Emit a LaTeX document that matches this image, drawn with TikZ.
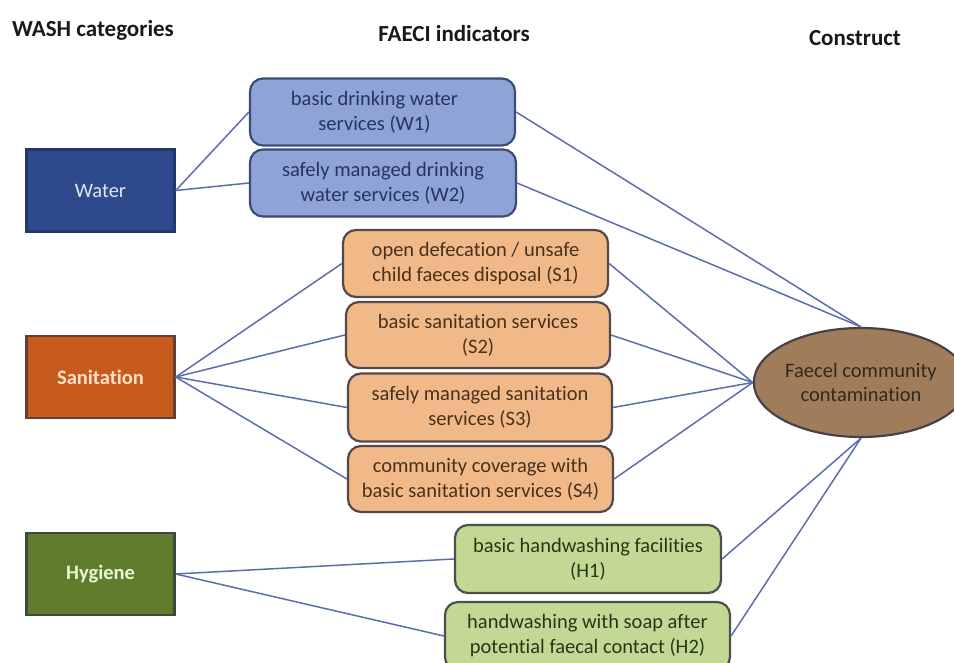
\documentclass[tikz,border=0pt]{standalone}
\usepackage{fontspec}
\setmainfont{Carlito}[RawFeature={-liga}]
\usetikzlibrary{shapes.geometric}
\definecolor{waterF}{RGB}{47,74,140}
\definecolor{waterD}{RGB}{35,55,107}
\definecolor{waterT}{RGB}{222,228,242}
\definecolor{wF}{RGB}{143,164,214}
\definecolor{wD}{RGB}{60,75,120}
\definecolor{wT}{RGB}{40,50,100}
\definecolor{sanF}{RGB}{199,91,30}
\definecolor{sanD}{RGB}{95,65,55}
\definecolor{sanT}{RGB}{250,226,200}
\definecolor{sF}{RGB}{240,185,135}
\definecolor{sD}{RGB}{85,72,72}
\definecolor{sT}{RGB}{70,50,30}
\definecolor{hygF}{RGB}{95,125,45}
\definecolor{hygD}{RGB}{62,72,62}
\definecolor{hygT}{RGB}{236,245,212}
\definecolor{hF}{RGB}{196,216,150}
\definecolor{hD}{RGB}{72,82,72}
\definecolor{hT}{RGB}{40,55,20}
\definecolor{fcF}{RGB}{160,125,90}
\definecolor{fcD}{RGB}{72,66,72}
\definecolor{fcT}{RGB}{50,40,30}
\definecolor{linkc}{RGB}{90,110,175}
\definecolor{headc}{RGB}{25,25,25}
\begin{document}
\begin{tikzpicture}[x=1pt,y=-1pt,
  cat/.style={draw, line width=2.5pt, minimum width=148pt, minimum height=82pt, inner sep=0pt,
    font=\fontsize{20.5}{25}\selectfont},
  ind/.style={draw, rounded corners=13pt, line width=2.2pt, inner sep=0pt, align=center,
    minimum height=67pt, font=\fontsize{20.5}{25}\selectfont},
  wbox/.style={ind, fill=wF, draw=wD, text=wT},
  sbox/.style={ind, fill=sF, draw=sD, text=sT},
  hbox/.style={ind, fill=hF, draw=hD, text=hT},
  link/.style={draw=linkc, line width=1.5pt},
  head/.style={font=\fontsize{23}{28}\selectfont\bfseries, inner sep=0pt, text=headc}]
\useasboundingbox (0,0) rectangle (954,663);

% headings
\node[head] (hwash) at (93,30) {WASH categories};
\node[head] (hfaeci) at (454,34) {FAECI indicators};
\node[head] (hcons) at (855,38) {Construct};

% categories
\node[cat, fill=waterF, draw=waterD, text=waterT] (water) at (100.5,190.5) {Water};
\node[cat, fill=sanF, draw=sanD, text=sanT, font=\fontsize{20.5}{25}\selectfont\bfseries] (san) at (100.5,377) {Sanitation};
\node[cat, fill=hygF, draw=hygD, text=hygT, font=\fontsize{20.5}{25}\selectfont\bfseries] (hyg) at (100.5,574) {Hygiene};

% indicators
\node[wbox, minimum width=265pt] (w1) at (382.5,112) {basic drinking water\hspace*{16pt}\\services (W1)\hspace*{16pt}};
\node[wbox, minimum width=266pt] (w2) at (383,183) {safely managed drinking\\water services (W2)};
\node[sbox, minimum width=265pt] (s1) at (475.5,263.5) {open defecation / unsafe\\child faeces disposal (S1)};
\node[sbox, minimum width=264pt, minimum height=66pt] (s2) at (478,335) {basic sanitation services\\(S2)};
\node[sbox, minimum width=264pt, minimum height=68pt] (s3) at (480,407.5) {safely managed sanitation\\services (S3)};
\node[sbox, minimum width=265pt, minimum height=66pt] (s4) at (480.5,479) {community coverage with\\basic sanitation services (S4)};
\node[hbox, minimum width=266pt, minimum height=68pt] (h1) at (588,559) {basic handwashing facilities\\(H1)};
\node[hbox, minimum width=285pt, minimum height=68pt] (h2) at (587.5,636) {handwashing with soap after\\potential faecal contact (H2)};

% construct
\node[ellipse, draw=fcD, fill=fcF, line width=2.2pt, inner sep=0pt, minimum width=185pt, minimum height=109pt,
  align=center, text=fcT, font=\fontsize{20.5}{24}\selectfont] (fc) at (861,382.5) {Faecel community\\contamination};

% connectors
\draw[link] (water.east) -- (w1.west);
\draw[link] (water.east) -- (w2.west);
\draw[link] (san.east) -- (s1.west);
\draw[link] (san.east) -- (s2.west);
\draw[link] (san.east) -- (s3.west);
\draw[link] (san.east) -- (s4.west);
\draw[link] (hyg.east) -- (h1.west);
\draw[link] (hyg.east) -- (h2.west);
\draw[link] (w1.east) -- (fc.north);
\draw[link] (w2.east) -- (fc.north);
\draw[link] (s1.east) -- (fc.west);
\draw[link] (s2.east) -- (fc.west);
\draw[link] (s3.east) -- (fc.west);
\draw[link] (s4.east) -- (fc.west);
\draw[link] (h1.east) -- (fc.south);
\draw[link] (h2.east) -- (fc.south);
\end{tikzpicture}
\end{document}
